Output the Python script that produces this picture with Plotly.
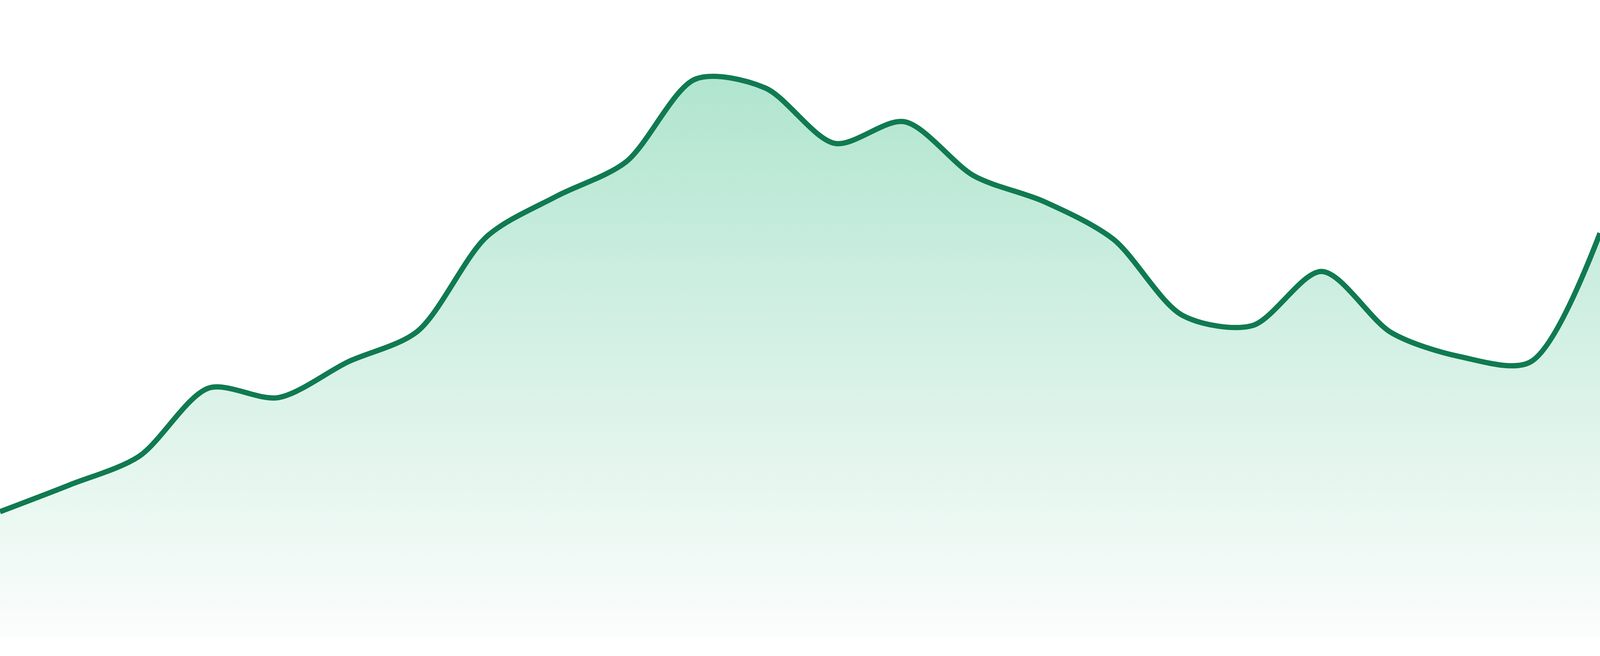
import plotly.graph_objects as go

# 24 evenly spaced samples (axis range 0-100)
periods = list(range(24))
values = [
    19.7, 23.9, 28.4, 39.1, 37.6, 43.2, 48.0, 62.9, 69.2, 74.6,
    87.6, 86.2, 77.5, 80.9, 72.4, 68.4, 62.5, 50.5, 48.9, 57.4,
    47.8, 44.0, 43.2, 63.4,
]

line_color = "#107a51"
fill_top = "rgb(176,229,207)"
fill_bottom = "rgb(251,253,252)"

fig = go.Figure()

fig.add_trace(
    go.Scatter(
        x=periods,
        y=values,
        mode="lines",
        line=dict(color=line_color, width=13.5, shape="spline", smoothing=0.85),
        fill="tozeroy",
        fillgradient=dict(
            type="vertical",
            colorscale=[[0, fill_bottom], [1, fill_top]],
        ),
        hoverinfo="skip",
        showlegend=False,
    )
)

# fill the whole browser window; bottom gap kept as a fraction of the height
fig.update_layout(
    autosize=True,
    margin=dict(l=0, r=0, t=0, b=0, pad=0),
    paper_bgcolor="white",
    plot_bgcolor="white",
    showlegend=False,
)

fig.update_xaxes(visible=False, range=[0, len(periods) - 1])
fig.update_yaxes(visible=False, range=[0, 100], domain=[48 / 1680, 1])

fig.write_html(
    "out.html",
    config={"responsive": True, "displayModeBar": False},
    default_width="100vw",
    default_height="100vh",
    post_script=(
        "document.body.style.margin='0';"
        "document.body.style.overflow='hidden';"
        "window.dispatchEvent(new Event('resize'));"
    ),
)
